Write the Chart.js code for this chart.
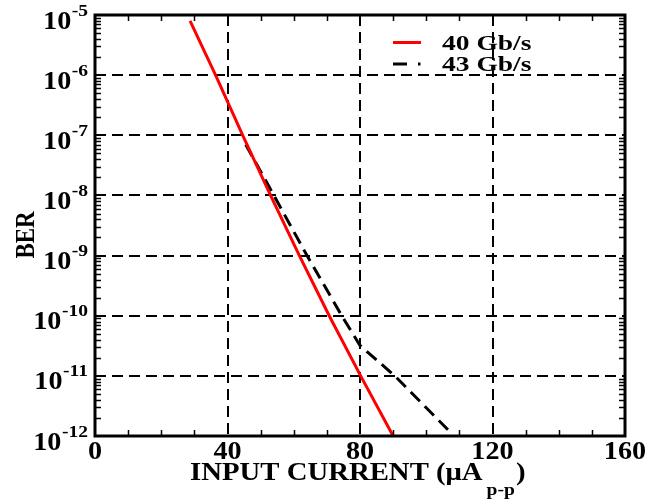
<!DOCTYPE html>
<html>
<head>
<meta charset="utf-8">
<script src="https://cdn.jsdelivr.net/npm/chart.js@4/dist/chart.umd.min.js"></script>
<style>
html,body{margin:0;padding:0;background:#fff;}
#wrap{width:662px;height:500px;position:relative;}
</style>
</head>
<body>
<div id="wrap"><canvas id="c" width="662" height="500"></canvas></div>
<script>
// ---- data ----
const series40Label = '40 Gb/s';
const series40X = [28.7, 36.4, 44.6, 53.0, 61.7, 70.7, 80.2, 90.0];
const series40Y = [8e-6, 1e-6, 1e-7, 1e-8, 1e-9, 1e-10, 1e-11, 1e-12];

const series43Label = '43 Gb/s';
const series43X = [45.5, 54.0, 64.0, 74.5, 80.0, 90.5, 107.0];
const series43Y = [7e-8, 1e-8, 1e-9, 1e-10, 3.2e-11, 1e-11, 1.2e-12];

const xTickValues = [0, 40, 80, 120, 160];
const xTickLabels = ['0', '40', '80', '120', '160'];
const yTickValues = [1e-5, 1e-6, 1e-7, 1e-8, 1e-9, 1e-10, 1e-11, 1e-12];
const yTickExponents = ['-5', '-6', '-7', '-8', '-9', '-10', '-11', '-12'];
const xMinorValues = [10, 20, 30, 50, 60, 70, 90, 100, 110, 130, 140, 150];
const yMinorMultipliers = [2, 3, 4, 5, 6, 7, 8, 9];
const xTitleMain = 'INPUT CURRENT (\u03BCA';
const xTitleSub = 'p-p';
const xTitleEnd = ')';
const yTitle = 'BER';

const FONT = '"Liberation Serif", "Times New Roman", serif';
const SX = 1.15;

function toPts(xs, ys) { return xs.map((x, i) => ({x: x, y: ys[i]})); }

function stretchText(ctx, txt, x, y, size, align, sx) {
  sx = sx || SX;
  ctx.save();
  ctx.font = 'bold ' + size + 'px ' + FONT;
  const w = ctx.measureText(txt).width * sx;
  let left = x;
  if (align === 'center') left = x - w / 2;
  else if (align === 'right') left = x - w;
  ctx.translate(left, y);
  ctx.scale(sx, 1);
  ctx.textAlign = 'left';
  ctx.textBaseline = 'alphabetic';
  ctx.fillStyle = '#000';
  ctx.fillText(txt, 0, 0);
  ctx.restore();
  return w;
}
function textW(ctx, txt, size, sx) {
  ctx.save();
  ctx.font = 'bold ' + size + 'px ' + FONT;
  const w = ctx.measureText(txt).width * (sx || SX);
  ctx.restore();
  return w;
}

const decor = {
  id: 'decor',
  afterDatasetsDraw(chart) {
    const ctx = chart.ctx;
    const xs = chart.scales.x, ys = chart.scales.y;
    const a = chart.chartArea;
    ctx.save();
    ctx.setLineDash([]);
    ctx.strokeStyle = '#000';
    // minor ticks x
    ctx.lineWidth = 1.5;
    xMinorValues.forEach(v => {
      const px = Math.round(xs.getPixelForValue(v)) + 0.5;
      ctx.beginPath();
      ctx.moveTo(px, a.bottom); ctx.lineTo(px, a.bottom - 6);
      ctx.moveTo(px, a.top); ctx.lineTo(px, a.top + 6);
      ctx.stroke();
    });
    // minor ticks y (log)
    for (let i = 1; i < yTickValues.length; i++) {
      const base = yTickValues[i];
      yMinorMultipliers.forEach(m => {
        const v = base * m;
        const py = Math.round(ys.getPixelForValue(v)) + 0.5;
        ctx.beginPath();
        ctx.moveTo(a.left, py); ctx.lineTo(a.left + 6, py);
        ctx.moveTo(a.right, py); ctx.lineTo(a.right - 6, py);
        ctx.stroke();
      });
    }
    // frame
    ctx.lineWidth = 3;
    ctx.strokeRect(a.left, a.top, a.right - a.left, a.bottom - a.top);

    // y tick labels 10^n
    yTickValues.forEach((v, i) => {
      const py = ys.getPixelForValue(v);
      const supW = stretchText(ctx, yTickExponents[i], 88, py + 0.5, 17, 'right');
      stretchText(ctx, '10', 88 - supW - 0.5, py + 13.5, 24.5, 'right');
    });
    // x tick labels
    xTickValues.forEach((v, i) => {
      const px = xs.getPixelForValue(v);
      stretchText(ctx, xTickLabels[i], px, 459, 24.5, 'center');
    });
    // x title
    const wMain = textW(ctx, xTitleMain, 25);
    const wSub = textW(ctx, xTitleSub, 17);
    let tx = 190;
    stretchText(ctx, xTitleMain, tx, 480, 25, 'left'); tx += wMain + 4;
    stretchText(ctx, xTitleSub, tx, 495, 17, 'left'); tx += wSub + 1;
    stretchText(ctx, xTitleEnd, tx, 480, 25, 'left');
    // y title rotated
    ctx.save();
    ctx.translate(34, 235);
    ctx.rotate(-Math.PI / 2);
    stretchText(ctx, yTitle, 0, 0, 27, 'center', 0.85);
    ctx.restore();

    // legend
    ctx.lineWidth = 3;
    ctx.strokeStyle = '#ff0000';
    ctx.beginPath(); ctx.moveTo(393, 42.5); ctx.lineTo(421, 42.5); ctx.stroke();
    ctx.strokeStyle = '#000';
    ctx.beginPath(); ctx.moveTo(393, 64); ctx.lineTo(407, 64); ctx.stroke();
    ctx.beginPath(); ctx.moveTo(418, 64); ctx.lineTo(420.5, 64); ctx.stroke();
    stretchText(ctx, series40Label, 442, 49.5, 22, 'left', 1.25);
    stretchText(ctx, series43Label, 442, 70.5, 22, 'left', 1.25);
    ctx.restore();
  }
};

const chart = new Chart(document.getElementById('c'), {
  type: 'line',
  data: {
    datasets: [
      {
        label: series40Label,
        data: toPts(series40X, series40Y),
        borderColor: '#ff0000',
        borderWidth: 3,
        pointRadius: 0,
        tension: 0,
        fill: false
      },
      {
        label: series43Label,
        data: toPts(series43X, series43Y),
        borderColor: '#000000',
        borderWidth: 3,
        borderDash: [13, 7],
        pointRadius: 0,
        tension: 0,
        fill: false
      }
    ]
  },
  plugins: [decor],
  options: {
    responsive: false,
    animation: false,
    devicePixelRatio: 1,
    layout: { padding: { top: 15, right: 37, left: 0, bottom: 0 } },
    plugins: { legend: { display: false }, tooltip: { enabled: false } },
    scales: {
      x: {
        type: 'linear',
        min: 0, max: 160,
        afterBuildTicks: s => { s.ticks = xTickValues.map(v => ({value: v})); },
        afterFit: s => { s.height = 64; },
        ticks: { display: false },
        grid: {
          drawTicks: false,
          lineWidth: 2,
          color: c => (c.tick && (c.tick.value === 0 || c.tick.value === 160)) ? 'rgba(0,0,0,0)' : '#000'
        },
        border: { display: false, dash: [11, 6] },
        title: { display: false }
      },
      y: {
        type: 'logarithmic',
        min: 1e-12, max: 1e-5,
        afterBuildTicks: s => { s.ticks = yTickValues.map(v => ({value: v})); },
        afterFit: s => { s.width = 95; },
        ticks: { display: false },
        grid: {
          drawTicks: false,
          lineWidth: 2,
          color: c => (c.tick && (c.tick.value === 1e-5 || c.tick.value === 1e-12)) ? 'rgba(0,0,0,0)' : '#000'
        },
        border: { display: false, dash: [11, 6] },
        title: { display: false }
      }
    }
  }
});
</script>
</body>
</html>
